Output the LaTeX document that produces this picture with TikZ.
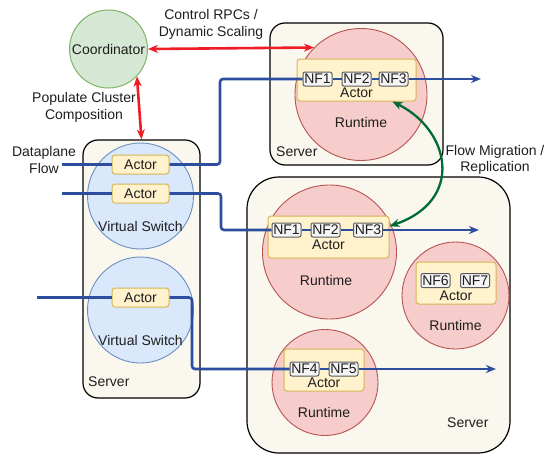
\documentclass[tikz,border=0pt]{standalone}
\usepackage{fontspec}
\setmainfont{Liberation Sans}
\usetikzlibrary{arrows.meta}

\definecolor{srvfill}{HTML}{F9F7EE}
\definecolor{rtfill}{HTML}{F6CDCB}
\definecolor{rtline}{HTML}{B85450}
\definecolor{vsfill}{HTML}{DAE8FC}
\definecolor{vsline}{HTML}{6C8EBF}
\definecolor{acfill}{HTML}{FFF2CC}
\definecolor{acline}{HTML}{D6B656}
\definecolor{nffill}{HTML}{F5F5F5}
\definecolor{nfline}{HTML}{5A5A5A}
\definecolor{cofill}{HTML}{D5E8D4}
\definecolor{coline}{HTML}{82B366}
\definecolor{flowblue}{HTML}{2D4E9E}
\definecolor{ctrlred}{HTML}{EE1C25}
\definecolor{miggreen}{HTML}{006B35}
\definecolor{txt}{HTML}{1E1E1E}

\begin{document}
\begin{tikzpicture}[x=1pt,y=-1pt,
  font=\fontsize{14}{16.5}\selectfont, text=txt,
  tip/.tip={Stealth[length=10pt,width=8pt,inset=3pt]},
  server/.style={draw=black, line width=1.2pt, fill=srvfill, rounded corners=15pt, inner sep=0pt},
  runtime/.style={circle, draw=rtline, line width=0.9pt, fill=rtfill, inner sep=0pt},
  vswitch/.style={circle, draw=vsline, line width=0.9pt, fill=vsfill, inner sep=0pt},
  coord/.style={circle, draw=coline, line width=1pt, fill=cofill, inner sep=0pt, minimum size=78pt},
  actorbox/.style={draw=acline, line width=1pt, fill=acfill, rounded corners=3pt, inner sep=0pt},
  smallactor/.style={actorbox, minimum width=57pt, minimum height=19pt},
  nfbox/.style={draw=nfline, line width=1pt, fill=nffill, rounded corners=2pt, inner sep=0pt, minimum width=29pt, minimum height=14pt},
  lbl/.style={inner sep=0pt, align=center},
  flow/.style={draw=flowblue, line width=2.6pt, rounded corners=3pt},
  flowend/.style={flow, -tip},
  ctrl/.style={draw=ctrlred, line width=2.6pt, tip-tip},
  mig/.style={draw=miggreen, line width=2.3pt, tip-tip}
]
\useasboundingbox (0,0) rectangle (550,455);

% servers
\node[server, minimum width=117pt, minimum height=258pt] (ls) at (141.5,269) {};
\node[server, minimum width=173pt, minimum height=142pt] (ts) at (356.5,94) {};
\node[server, rounded corners=32pt, minimum width=263pt, minimum height=276pt] (rs) at (378.5,315) {};
\node[lbl, anchor=west] (lsl) at (88,382) {Server};
\node[lbl, anchor=west] (tsl) at (276,152) {Server};
\node[lbl, anchor=west] (rsl) at (447,423) {Server};

% coordinator
\node[coord] (co) at (108.5,49) {Coordinator};

% virtual switches
\node[vswitch, minimum size=106pt] (vs1) at (140.5,196) {};
\node[vswitch, minimum size=106pt] (vs2) at (140.5,310) {};
\node[lbl] (vs1l) at (140.5,226) {Virtual Switch};
\node[lbl] (vs2l) at (140.5,340) {Virtual Switch};
\node[smallactor] (a1) at (140.5,164.5) {Actor};
\node[smallactor] (a2) at (140.5,193.5) {Actor};
\node[smallactor] (a3) at (140.5,297.5) {Actor};

% runtimes
\node[runtime, minimum size=132pt] (rt0) at (361,94.5) {};
\node[runtime, minimum size=134pt] (rt1) at (329.5,252) {};
\node[runtime, minimum size=107pt] (rt2) at (455.5,295.5) {};
\node[runtime, minimum size=106pt] (rt3) at (325,382.5) {};
\node[lbl] (rt0l) at (361,122) {Runtime};
\node[lbl] (rt1l) at (326,280) {Runtime};
\node[lbl] (rt2l) at (455.5,325) {Runtime};
\node[lbl] (rt3l) at (324,412) {Runtime};

% actors in runtimes
\node[actorbox, minimum width=119pt, minimum height=42pt] (ta) at (356.5,80) {};
\node[actorbox, minimum width=121pt, minimum height=42pt] (ra1) at (328.5,237) {};
\node[actorbox, minimum width=80pt, minimum height=42pt] (ra2) at (456,283) {};
\node[actorbox, minimum width=80pt, minimum height=42pt] (ra3) at (324,370) {};
\node[lbl] (tal) at (356.5,93) {Actor};
\node[lbl] (ra1l) at (328.5,245) {Actor};
\node[lbl] (ra2l) at (456,296) {Actor};
\node[lbl] (ra3l) at (324,383) {Actor};

% flow coordinates
\coordinate (s1) at (62,164.5);
\coordinate (s2) at (62,193.5);
\coordinate (s3) at (37,297.5);
\coordinate (b1) at (220,164.5);
\coordinate (b2) at (221,193.5);
\coordinate (b3) at (192,297.5);
\coordinate (e1) at (481,79);
\coordinate (e2) at (479,230);
\coordinate (e3) at (496,369);

% NF boxes
\node[nfbox] (tn1) at (317.5,79) {NF1};
\node[nfbox] (tn2) at (356.5,79) {NF2};
\node[nfbox] (tn3) at (393.5,79) {NF3};
\node[nfbox] (rn1) at (286.5,230) {NF1};
\node[nfbox] (rn2) at (325.5,230) {NF2};
\node[nfbox] (rn3) at (368,230) {NF3};
\node[nfbox] (rn6) at (435.5,280.5) {NF6};
\node[nfbox] (rn7) at (475,280.5) {NF7};
\node[nfbox] (rn4) at (304.5,369) {NF4};
\node[nfbox] (rn5) at (343.5,369) {NF5};

% flows
\draw[flow] (s1) -- (a1.west);
\draw[flow] (a1.east) -- (b1) |- (tn1.west);
\draw[flow] (tn1.east) -- (tn2.west);
\draw[flow] (tn2.east) -- (tn3.west);
\draw[flowend] (tn3.east) -- (e1);

\draw[flow] (s2) -- (a2.west);
\draw[flow] (a2.east) -- (b2) |- (rn1.west);
\draw[flow] (rn1.east) -- (rn2.west);
\draw[flow] (rn2.east) -- (rn3.west);
\draw[flowend] (rn3.east) -- (e2);

\draw[flow] (s3) -- (a3.west);
\draw[flow] (a3.east) -- (b3) |- (rn4.west);
\draw[flow] (rn4.east) -- (rn5.west);
\draw[flowend] (rn5.east) -- (e3);

% control arrows
\draw[ctrl] (co.east) -- (rt0.135);
\draw[ctrl] (co.-44) -- (ls.north);

% migration arrow
\draw[mig] (ta.-31) .. controls (450,130) and (465,200) .. (ra1.10);

% labels
\node[lbl] (dpl) at (44,160) {Dataplane\\Flow};
\node[lbl] (ctl) at (211,24.5) {Control RPCs /\\Dynamic Scaling};
\node[lbl] (pcl) at (84,107.5) {Populate Cluster\\Composition};
\node[lbl] (fml) at (495,160) {Flow Migration /\\Replication};
\end{tikzpicture}
\end{document}
